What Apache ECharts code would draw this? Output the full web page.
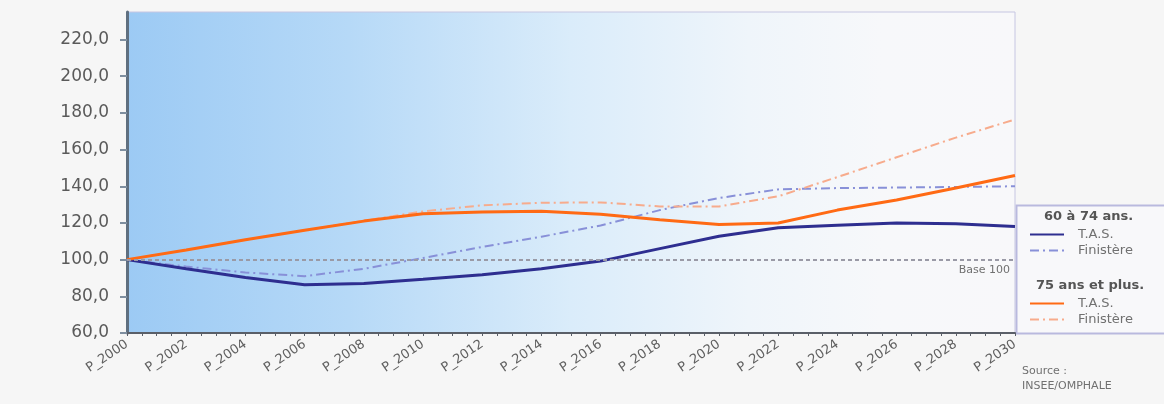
<!DOCTYPE html>
<html>
<head>
<meta charset="utf-8">
<script src="https://cdn.jsdelivr.net/npm/echarts@6/dist/echarts.min.js"></script>
<style>
html,body{margin:0;padding:0;background:#f6f6f6;}
#chart{width:1164px;height:404px;}
</style>
</head>
<body>
<div id="chart"></div>
<script>
// ---- data ----
const years = [2000, 2002, 2004, 2006, 2008, 2010, 2012, 2014, 2016, 2018, 2020, 2022, 2024, 2026, 2028, 2030];
const tas60 = [100, 95, 90.3, 86.3, 87, 89.3, 91.8, 95, 99.2, 106, 112.7, 117.4, 118.7, 120, 119.5, 118.1];
const fin60 = [100, 96.2, 93, 91, 95, 100.9, 106.9, 112.5, 118.6, 127, 133.6, 138.3, 139, 139.3, 139.6, 140];
const tas75 = [100, 105.3, 110.8, 116, 121, 125, 126, 126.4, 124.8, 121.8, 119.2, 120, 127, 132.5, 139, 145.9];
const fin75 = [100, 105.3, 110.8, 116, 121.2, 126.3, 129.6, 131, 131.2, 129, 129, 134.5, 145, 155.8, 166.5, 176.4];
const xLabelPrefix = 'P_';
const groupTitles = ['60 à 74 ans.', '75 ans et plus.'];
const itemLabels = ['T.A.S.', 'Finistère'];
const baseValue = 100;
const baseLabel = 'Base 100';
const sourceLines = ['Source :', 'INSEE/OMPHALE'];

const pairs = arr => years.map((y, i) => [y, arr[i]]);
const FONT = 'DejaVu Sans';

const names = ['60_tas', '60_fin', '75_tas', '75_fin'];
const legendText = {'60_tas': itemLabels[0], '60_fin': itemLabels[1], '75_tas': itemLabels[0], '75_fin': itemLabels[1]};
const dashDot = [9, 4, 2, 4];

const legendBase = {
  orient: 'vertical', left: 1024,
  itemWidth: 34, itemHeight: 12, itemGap: 3,
  itemStyle: {opacity: 0},
  formatter: n => legendText[n],
  textStyle: {fontFamily: FONT, fontSize: 13, color: '#707070', padding: [0, 0, 0, 9]}
};

const chart = echarts.init(document.getElementById('chart'));
chart.setOption({
  backgroundColor: '#f6f6f6',
  animation: false,
  grid: {
    left: 127, right: 149, top: 12, bottom: 71,
    show: true,
    borderColor: '#c6c6e2', borderWidth: 1,
    backgroundColor: {
      type: 'linear', x: 0, y: 0, x2: 1, y2: 0,
      colorStops: [
        {offset: 0, color: '#9ccaf4'},
        {offset: 0.25, color: '#b6d9f7'},
        {offset: 0.5, color: '#daecfa'},
        {offset: 0.7, color: '#eff5fa'},
        {offset: 0.85, color: '#f7f8fa'},
        {offset: 1, color: '#f8f8fa'}
      ]
    }
  },
  xAxis: {
    type: 'value', min: 2000, max: 2030, interval: 2,
    splitLine: {show: false},
    axisLine: {show: true, lineStyle: {color: '#5a5f68', width: 2}},
    axisTick: {show: true, length: 3, lineStyle: {color: '#5a5f68'}},
    minorTick: {show: true, splitNumber: 4, length: 3, lineStyle: {color: '#5a5f68'}},
    axisLabel: {
      rotate: 34, margin: 10, fontFamily: FONT, fontSize: 13, color: '#606060',
      formatter: v => xLabelPrefix + v
    }
  },
  yAxis: {
    type: 'value', min: 60, max: 235, interval: 20,
    splitLine: {show: false},
    axisLine: {show: true, lineStyle: {color: '#5f6f80', width: 3}},
    axisTick: {show: true, length: 7, lineStyle: {color: '#7f8fa0', width: 2}},
    axisLabel: {
      margin: 18, fontFamily: FONT, fontSize: 17, color: '#5a5a5a',
      showMaxLabel: false,
      formatter: v => (v % 20 === 0 ? v.toFixed(1).replace('.', ',') : '')
    }
  },
  legend: [
    Object.assign({}, legendBase, {data: ['60_tas', '60_fin'], top: 223}),
    Object.assign({}, legendBase, {data: ['75_tas', '75_fin'], top: 292})
  ],
  graphic: [
    {type: 'rect', z: -1, shape: {x: 1016.5, y: 205.5, width: 150, height: 128},
     style: {fill: '#f8f8fa', stroke: '#b9b9de', lineWidth: 2}},
    {type: 'text', left: 1044, top: 210, z: 10,
     style: {text: groupTitles[0], font: 'bold 13px "DejaVu Sans"', fill: '#555'}},
    {type: 'text', left: 1036, top: 279, z: 10,
     style: {text: groupTitles[1], font: 'bold 13px "DejaVu Sans"', fill: '#555'}},
    {type: 'text', left: 1022, top: 366, z: 10,
     style: {text: sourceLines[0], font: '11px "DejaVu Sans"', fill: '#707070'}},
    {type: 'text', left: 1022, top: 381, z: 10,
     style: {text: sourceLines[1], font: '11px "DejaVu Sans"', fill: '#707070'}}
  ],
  series: [
    {
      name: names[1], type: 'line', data: pairs(fin60), symbol: 'none', z: 2,
      lineStyle: {color: '#8890d8', width: 2, type: dashDot}, itemStyle: {color: '#9aa0dc'}
    },
    {
      name: names[3], type: 'line', data: pairs(fin75), symbol: 'none', z: 2,
      lineStyle: {color: '#f7ab8c', width: 2, type: dashDot}, itemStyle: {color: '#f7ab8c'}
    },
    {
      name: names[0], type: 'line', data: pairs(tas60), symbol: 'none', z: 3,
      lineStyle: {color: '#2e2e90', width: 3}, itemStyle: {color: '#2e2e90'},
      markLine: {
        silent: true, symbol: 'none',
        lineStyle: {color: '#9a9aa6', width: 2, type: [4, 3]},
        label: {show: true, position: 'insideEndBottom', formatter: baseLabel,
                fontFamily: FONT, fontSize: 11, color: '#707070'},
        data: [{yAxis: baseValue}]
      }
    },
    {
      name: names[2], type: 'line', data: pairs(tas75), symbol: 'none', z: 4,
      lineStyle: {color: '#ff6a14', width: 3}, itemStyle: {color: '#ff6a14'}
    }
  ]
});
</script>
</body>
</html>
